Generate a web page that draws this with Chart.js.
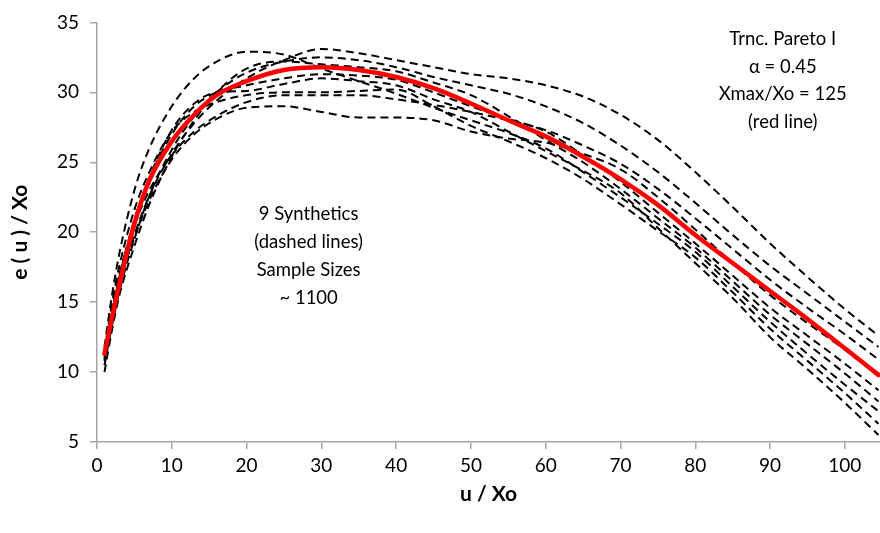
<!DOCTYPE html>
<html>
<head>
<meta charset="utf-8">
<script src="https://cdn.jsdelivr.net/npm/chart.js@4.4.0/dist/chart.umd.min.js"></script>
<style>
    body { margin: 0; background: #fff; }
    #wrap { width: 880px; height: 533px; position: relative; }
</style>
</head>
<body>
<div id="wrap"><canvas id="chart"></canvas></div>
<script>
// u / Xo positions where each curve was read
const uValues = [1, 2, 3, 5, 7, 10, 13, 16, 20, 25, 30, 35, 40, 45, 50, 55, 60, 65, 70, 75, 80, 85, 90, 95, 100, 104.5];

// Truncated Pareto I, alpha 0.45, Xmax/Xo 125 (red line)
const paretoLine = [11.3, 13.9, 16.3, 20.6, 23.7, 26.5, 28.4, 29.8, 30.8, 31.6, 31.8, 31.6, 31.1, 30.3, 29.2, 28.0, 26.85, 25.4, 23.8, 21.95, 19.8, 17.8, 15.8, 13.8, 11.7, 9.8];

// 9 synthetic samples (dashed lines)
const synth1 = [11.8, 15.5, 18.5, 23.0, 26.0, 29.0, 31.0, 32.2, 32.9, 32.7, 31.7, 30.8, 29.9, 28.9, 28.0, 27.1, 26.0, 24.3, 22.5, 20.6, 18.6, 16.1, 13.6, 11.3, 9.1, 7.2];
const synth2 = [11.0, 13.8, 16.2, 19.8, 22.6, 25.6, 27.8, 29.4, 31.0, 32.3, 33.1, 32.8, 32.3, 31.8, 31.3, 31.0, 30.5, 29.7, 28.4, 26.6, 24.3, 21.8, 19.2, 16.8, 14.5, 12.6];
const synth3 = [10.5, 13.3, 15.8, 19.5, 22.6, 25.9, 28.3, 30.0, 31.4, 32.2, 32.5, 32.3, 31.8, 31.1, 30.5, 29.9, 29.0, 27.8, 26.2, 24.3, 22.1, 19.8, 17.6, 15.6, 13.6, 11.8];
const synth4 = [11.5, 14.5, 17.0, 20.5, 23.0, 25.5, 27.2, 28.3, 29.3, 29.8, 29.8, 29.8, 29.5, 29.1, 28.6, 28.0, 27.3, 26.2, 24.9, 23.1, 21.0, 18.8, 16.6, 14.6, 12.7, 10.9];
const synth5 = [10.8, 13.8, 16.4, 19.6, 22.3, 25.2, 27.0, 28.1, 28.9, 29.0, 28.6, 28.2, 28.2, 28.0, 27.2, 26.7, 26.4, 25.6, 24.5, 22.5, 20.2, 17.8, 15.5, 13.5, 11.6, 9.7];
const synth6 = [11.2, 14.2, 16.8, 20.9, 23.8, 27.0, 29.0, 30.0, 30.5, 31.0, 31.3, 31.2, 30.9, 30.0, 29.0, 28.1, 27.2, 25.5, 23.6, 21.4, 19.2, 16.9, 14.6, 12.6, 10.6, 8.7];
const synth7 = [10.0, 13.0, 15.5, 19.0, 22.0, 25.4, 28.0, 30.0, 31.7, 32.2, 32.0, 31.8, 31.5, 30.7, 29.8, 28.3, 26.6, 25.0, 23.1, 21.0, 18.9, 16.5, 14.1, 12.0, 9.9, 7.9];
const synth8 = [11.6, 14.9, 17.6, 21.6, 24.3, 27.2, 28.6, 29.3, 29.8, 30.0, 30.0, 30.1, 30.2, 29.0, 27.6, 26.5, 25.3, 23.8, 22.0, 20.1, 18.2, 15.7, 13.1, 10.8, 8.5, 6.3];
const synth9 = [10.9, 14.0, 16.7, 20.8, 23.9, 27.3, 29.2, 30.0, 30.1, 30.6, 31.0, 30.8, 30.5, 29.5, 28.6, 27.2, 25.8, 24.4, 22.8, 20.3, 17.8, 15.3, 12.5, 10.2, 7.8, 5.5];
const synthetics = [synth1, synth2, synth3, synth4, synth5, synth6, synth7, synth8, synth9];

// axis ranges and ticks
const xMin = 0, xMax = 104.7, xStep = 10;
const yMin = 5, yMax = 35, yStep = 5;

// note texts
const noteRight = ['Trnc. Pareto I', 'α = 0.45', 'Xmax/Xo = 125', '(red line)'];
const noteLeft = ['9 Synthetics', '(dashed lines)', 'Sample Sizes', '~ 1100'];

const FONT = 'Lato, "Open Sans", sans-serif';
const AXIS_GREY = '#a6a6a6';

function toPoints(vals) {
    return uValues.map((u, i) => ({ x: u, y: vals[i] }));
}

const datasets = [{
    label: 'Trnc. Pareto I',
    data: toPoints(paretoLine),
    borderColor: '#ff0000',
    borderWidth: 4.5,
    pointRadius: 0,
    cubicInterpolationMode: 'monotone',
    borderCapStyle: 'round'
}];
synthetics.forEach((s, i) => {
    datasets.push({
        label: 'Synthetic ' + (i + 1),
        data: toPoints(s),
        borderColor: '#000000',
        borderWidth: 2,
        borderDash: [8, 5],
        pointRadius: 0,
        cubicInterpolationMode: 'monotone'
    });
});

// draws the two text notes, anchored in data coordinates
const notesPlugin = {
    id: 'notes',
    afterDraw(chart) {
        const { ctx, scales } = chart;
        ctx.save();
        ctx.font = '18.5px ' + FONT;
        ctx.fillStyle = '#000';
        ctx.textAlign = 'center';
        ctx.textBaseline = 'middle';
        let x = scales.x.getPixelForValue(91.7);
        let y = scales.y.getPixelForValue(33.8);
        noteRight.forEach((t, i) => ctx.fillText(t, x, y + i * 27.5));
        x = scales.x.getPixelForValue(28.3);
        y = scales.y.getPixelForValue(21.3);
        noteLeft.forEach((t, i) => ctx.fillText(t, x, y + i * 28));
        ctx.restore();
    }
};

new Chart(document.getElementById('chart'), {
    type: 'line',
    data: { datasets },
    options: {
        responsive: true,
        maintainAspectRatio: false,
        animation: false,
        layout: { padding: { top: 20, right: 0, left: 0, bottom: 0 } },
        plugins: {
            legend: { display: false },
            tooltip: { enabled: false }
        },
        scales: {
            x: {
                type: 'linear',
                min: xMin,
                max: xMax,
                afterFit: (scale) => { scale.height = 91; },
                afterBuildTicks: (scale) => {
                    scale.ticks = scale.ticks.filter(t => t.value % xStep === 0);
                },
                ticks: {
                    stepSize: xStep,
                    includeBounds: false,
                    color: '#000',
                    font: { family: FONT, size: 19 },
                    padding: 5,
                    maxRotation: 0
                },
                grid: { drawOnChartArea: false, drawTicks: true, tickLength: 7, color: AXIS_GREY, lineWidth: 1.5 },
                border: { display: true, color: AXIS_GREY, width: 1.5 },
                title: {
                    display: true,
                    text: 'u / Xo',
                    color: '#000',
                    font: { family: FONT, size: 21, weight: 'bold' },
                    padding: { top: 0, bottom: 26 }
                }
            },
            y: {
                min: yMin,
                max: yMax,
                afterFit: (scale) => { scale.width = 97; },
                ticks: {
                    stepSize: yStep,
                    color: '#000',
                    font: { family: FONT, size: 19 },
                    padding: 11
                },
                grid: { drawOnChartArea: false, drawTicks: true, tickLength: 7, color: AXIS_GREY, lineWidth: 1.5 },
                border: { display: true, color: AXIS_GREY, width: 1.5 },
                title: {
                    display: true,
                    text: 'e ( u ) / Xo',
                    color: '#000',
                    font: { family: FONT, size: 21, weight: 'bold' },
                    padding: { top: 8, bottom: 0 }
                }
            }
        }
    },
    plugins: [notesPlugin]
});
</script>
</body>
</html>
